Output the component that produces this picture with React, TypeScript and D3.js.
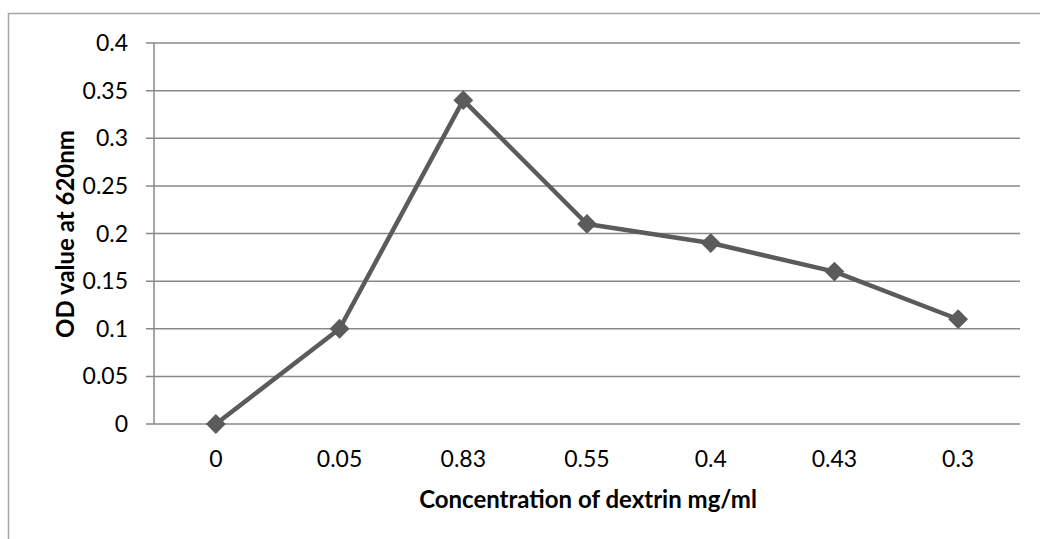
import { line, scaleBand, scaleLinear, select, symbol, symbolSquare } from 'd3';
import { useEffect, useRef } from 'react';

const categories = ['0', '0.05', '0.83', '0.55', '0.4', '0.43', '0.3'];
const odValues = [0, 0.1, 0.34, 0.21, 0.19, 0.16, 0.11];
const yTicks = [0, 0.05, 0.1, 0.15, 0.2, 0.25, 0.3, 0.35, 0.4];

export default function App() {
  const svgRef = useRef<SVGSVGElement>(null);

  useEffect(() => {
    if (!svgRef.current) return;
    const svg = select(svgRef.current);
    const font = 'Lato, "Open Sans", sans-serif';

    const left = 154;
    const right = 1020;
    const top = 43;
    const bottom = 424;

    const x = scaleBand<string>().domain(categories).range([left, right]);
    const y = scaleLinear().domain([0, 0.4]).range([bottom, top]);

    // outer chart border
    svg
      .append('rect')
      .attr('x', 8.5)
      .attr('y', 13.5)
      .attr('width', 1040)
      .attr('height', 540)
      .attr('fill', 'none')
      .attr('stroke', '#a6a6a6')
      .attr('stroke-width', 1.5);

    const grid = svg.append('g');
    yTicks.forEach((t) => {
      grid
        .append('line')
        .attr('x1', left - 8)
        .attr('x2', right)
        .attr('y1', y(t))
        .attr('y2', y(t))
        .attr('stroke', '#898989')
        .attr('stroke-width', 1.5);
      grid
        .append('text')
        .attr('x', 128)
        .attr('y', y(t))
        .attr('dy', '0.35em')
        .attr('text-anchor', 'end')
        .attr('font-family', font)
        .attr('font-size', 23)
        .attr('fill', '#000')
        .text(String(t));
    });

    svg
      .append('line')
      .attr('x1', left)
      .attr('x2', left)
      .attr('y1', top)
      .attr('y2', bottom)
      .attr('stroke', '#898989')
      .attr('stroke-width', 1.5);

    categories.forEach((c) => {
      svg
        .append('text')
        .attr('x', (x(c) || 0) + x.bandwidth() / 2)
        .attr('y', 467)
        .attr('text-anchor', 'middle')
        .attr('font-family', font)
        .attr('font-size', 23)
        .attr('fill', '#000')
        .text(c);
    });

    const data = categories.map((c, i) => ({ c, v: odValues[i] }));
    const cx = (d: { c: string }) => (x(d.c) || 0) + x.bandwidth() / 2;

    const pointLine = line<typeof data[number]>()
      .x(cx)
      .y((d) => y(d.v));

    svg
      .append('path')
      .datum(data)
      .attr('fill', 'none')
      .attr('d', pointLine)
      .attr('stroke', '#5b5b5b')
      .attr('stroke-width', 4.5)
      .attr('stroke-linejoin', 'round');

    const diamond = symbol().type(symbolSquare).size(196);
    svg
      .append('g')
      .selectAll('path')
      .data(data)
      .join('path')
      .attr('transform', (d) => `translate(${cx(d)},${y(d.v)}) rotate(45)`)
      .attr('d', diamond)
      .attr('fill', '#5b5b5b');

    svg
      .append('text')
      .attr('x', 588)
      .attr('y', 508)
      .attr('text-anchor', 'middle')
      .attr('font-family', font)
      .attr('font-size', 24)
      .attr('font-weight', 'bold')
      .attr('fill', '#000')
      .text('Concentration of dextrin mg/ml');

    svg
      .append('text')
      .attr('transform', `translate(74,234) rotate(-90)`)
      .attr('text-anchor', 'middle')
      .attr('font-family', font)
      .attr('font-size', 24)
      .attr('font-weight', 'bold')
      .attr('fill', '#000')
      .text('OD value at 620nm');

    return () => {
      svg.selectAll('*').remove();
    };
  }, []);

  return (
    <svg
      ref={svgRef}
      width={1040}
      height={539}
      style={{ position: 'absolute', left: 0, top: 0, background: '#fff' }}
    />
  );
}
